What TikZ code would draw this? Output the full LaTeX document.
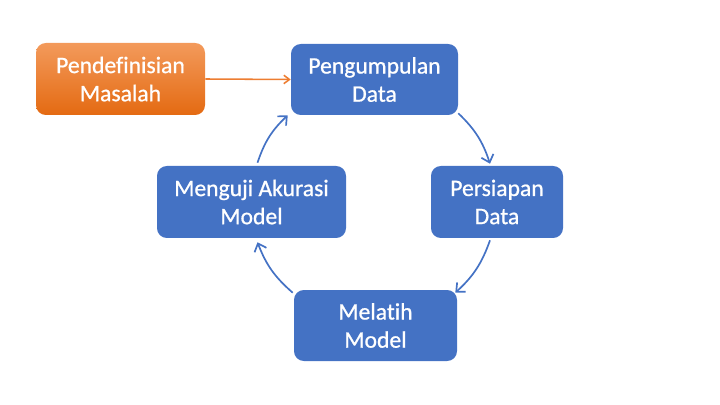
\documentclass[tikz,border=0pt]{standalone}
\usepackage{fontspec}
\setmainfont{Carlito}[Ligatures=NoCommon]
\newfontfamily\stagefont{Carlito}[Ligatures=NoCommon,FakeBold=0.8]
\usepackage{tikz}
\usetikzlibrary{positioning, arrows.meta}
\definecolor{boxblue}{HTML}{4472C4}
\definecolor{orangetop}{HTML}{F39A5B}
\definecolor{orangebot}{HTML}{E46A12}
\definecolor{arrorange}{HTML}{ED7D31}

\begin{document}
\begin{tikzpicture}[x=0.025cm,y=-0.025cm,
  stage/.style={rounded corners=7pt,fill=boxblue,text=white,align=center,
    font=\stagefont\fontsize{16.8}{20}\selectfont,inner sep=0pt},
  startbox/.style={stage,fill=none,top color=orangetop,bottom color=orangebot},
  flow/.style={-{Straight Barb[length=5pt,width=9pt]},boxblue,line width=1.2pt},
  kick/.style={-{Straight Barb[length=4pt,width=6pt]},arrorange,line width=1.1pt}]
\useasboundingbox (0,0) rectangle (720,405);
% the five stages
\node[startbox,minimum width=169*0.025cm,minimum height=72*0.025cm] (masalah) at (120.5,79) {Pendefinisian\\Masalah};
\node[stage,minimum width=167*0.025cm,minimum height=71*0.025cm] (kumpul) at (374.5,79.5) {Pengumpulan\\Data};
\node[stage,minimum width=132*0.025cm,minimum height=72*0.025cm] (siap) at (497,202) {Persiapan\\Data};
\node[stage,minimum width=163*0.025cm,minimum height=71*0.025cm] (latih) at (375.5,325.5) {Melatih\\Model};
\node[stage,minimum width=189*0.025cm,minimum height=72*0.025cm] (uji) at (251.5,202) {Menguji Akurasi\\Model};
% connectors
\draw[kick] (masalah.east) -- (kumpul.west);
\draw[flow] ([shift={(0,-2)}]kumpul.south east) to[bend left=14] ([shift={(-7,-2)}]siap.north);
\draw[flow] ([shift={(-7,2)}]siap.south) to[bend left=14] ([shift={(-2,3)}]latih.north east);
\draw[flow] ([shift={(-1,3)}]latih.north west) to[bend left=14] ([shift={(6,4)}]uji.south);
\draw[flow] ([shift={(6,-3)}]uji.north) to[bend left=14] ([shift={(-3,0)}]kumpul.south west);
\end{tikzpicture}
\end{document}
